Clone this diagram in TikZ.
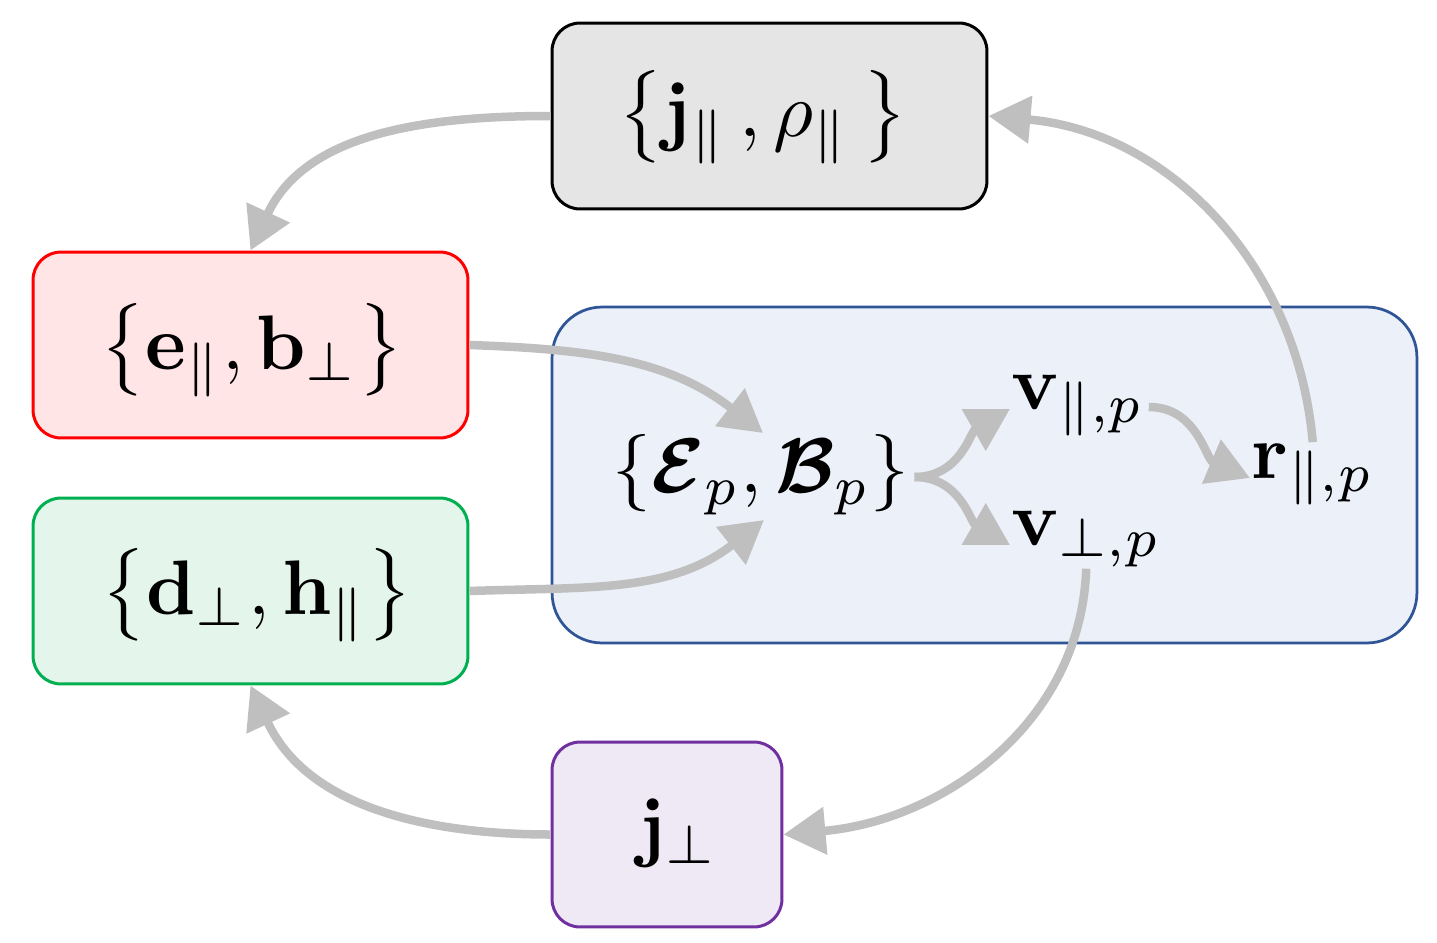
\documentclass[tikz,border=0pt]{standalone}
\usepackage{bm}
\usetikzlibrary{arrows.meta}
\definecolor{arrowgray}{HTML}{BFBFBF}
\definecolor{grayfill}{HTML}{E5E5E5}
\definecolor{redfill}{HTML}{FFE5E6}
\definecolor{redline}{HTML}{FF0000}
\definecolor{greenfill}{HTML}{E4F5EB}
\definecolor{greenline}{HTML}{00B050}
\definecolor{bluefill}{HTML}{EBF0F9}
\definecolor{blueline}{HTML}{2F5597}
\definecolor{purplefill}{HTML}{EFE9F5}
\definecolor{purpleline}{HTML}{7030A0}
\begin{document}
\begin{tikzpicture}[x=0.02cm,y=0.02cm,
  box/.style={rounded corners=0.56cm, line width=0.06cm, inner sep=0pt},
  lbl/.style={inner sep=0pt, scale=4.4},
  arr/.style={draw=arrowgray, line width=0.17cm, -{Triangle[length=0.84cm,width=0.92cm]}}]
\useasboundingbox (0,0) rectangle (1437,-943);
% boxes
\node[box, draw=black, fill=grayfill, minimum width=8.7cm, minimum height=3.72cm] (gray) at (769.5,-116) {};
\node[box, draw=redline, fill=redfill, minimum width=8.7cm, minimum height=3.72cm] (red) at (250.5,-345) {};
\node[box, draw=greenline, fill=greenfill, minimum width=8.7cm, minimum height=3.72cm] (green) at (250.5,-591) {};
\node[box, draw=blueline, fill=bluefill, rounded corners=1cm, line width=0.055cm, minimum width=17.3cm, minimum height=6.72cm] (blue) at (984.5,-475) {};
\node[box, draw=purpleline, fill=purplefill, minimum width=4.6cm, minimum height=3.7cm] (purple) at (667,-834.5) {};
% labels
\node[lbl] (tgray) at (763,-117) {$\bigl\{\mathbf{j}_{\|}\,,\rho_{\|}\,\bigr\}$};
\node[lbl] (tred) at (252,-350) {$\bigl\{\mathbf{e}_{\|},\mathbf{b}_{\perp}\bigr\}$};
\node[lbl] (tgreen) at (257,-595) {$\bigl\{\mathbf{d}_{\perp},\mathbf{h}_{\|}\bigr\}$};
\node[lbl, anchor=base] (tpurple) at (678,-852) {$\mathbf{j}_{\perp}$};
\node[lbl] (EB) at (761,-475) {$\{\bm{\mathcal{E}}_p,\bm{\mathcal{B}}_p\}$};
\node[lbl, anchor=base west] (vpar) at (1010,-409) {$\mathbf{v}_{\|,p}$};
\node[lbl, anchor=base west] (vperp) at (1010,-545) {$\mathbf{v}_{\perp,p}$};
\node[lbl, anchor=base west] (rpar) at (1250,-478) {$\mathbf{r}_{\|,p}$};
% arrows
\draw[arr] (gray.west) to[out=180,in=65] (red.north);
\draw[arr] (red.east) to[out=-2,in=142] ([shift={(2,42)}]EB.center);
\draw[arr] (green.east) to[out=2,in=-142] ([shift={(3,-45)}]EB.center);
\draw[arr] ([shift={(4,-2)}]EB.east) to[out=0,in=-150] (vpar.base west);
\draw[arr] ([shift={(4,-2)}]EB.east) to[out=0,in=150] (vperp.base west);
\draw[arr] ([shift={(3,2)}]vpar.base east) to[out=0,in=157] (rpar.base west);
\draw[arr] (rpar.north) to[out=95,in=-5] (gray.east);
\draw[arr] (vperp.south) to[out=-92,in=5] (purple.east);
\draw[arr] (purple.west) to[out=180,in=-65] (green.south);
\end{tikzpicture}
\end{document}
